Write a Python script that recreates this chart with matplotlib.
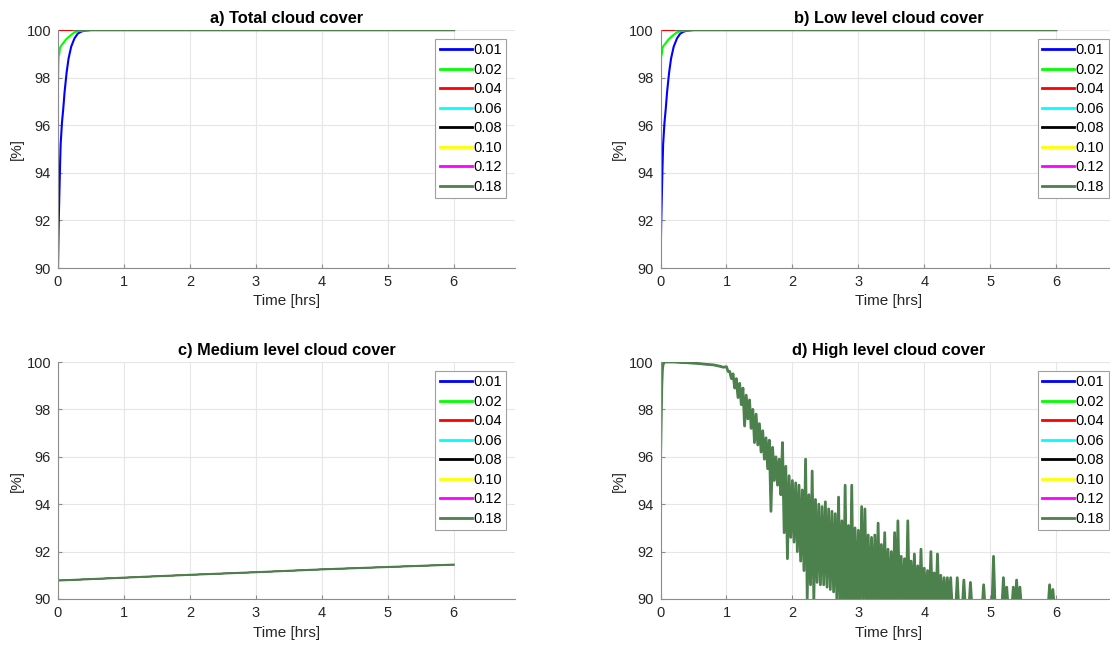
import numpy as np
import matplotlib
matplotlib.use("Agg")
import matplotlib.pyplot as plt

plt.rcParams['font.family'] = ['Liberation Sans', 'DejaVu Sans']

labels = ['0.01', '0.02', '0.04', '0.06', '0.08', '0.10', '0.12', '0.18']
colors = ['#0000ff', '#00ff00', '#ff0000', '#00ffff', '#000000', '#ffff00', '#ff00ff', '#4c804c']
titles = ['a) Total cloud cover', 'b) Low level cloud cover',
          'c) Medium level cloud cover', 'd) High level cloud cover']

# total / low level cloud cover (same in both panels)
t_01 = [0, 0.01, 0.02, 0.03, 0.04, 0.06, 0.08, 0.1, 0.13, 0.16, 0.2, 0.25, 0.3, 0.35, 0.4, 0.5, 6.0]
v_01 = [90, 91.8, 93.0, 94.2, 95.2, 96.1, 96.7, 97.4, 98.2, 98.8, 99.3, 99.65, 99.85, 99.93, 99.97, 100, 100]
t_02 = [0, 0.005, 0.01, 0.02, 0.03, 0.05, 0.08, 0.12, 0.16, 0.2, 0.25, 0.3, 0.4, 0.5, 6.0]
v_02 = [97.8, 98.6, 98.9, 99.0, 99.25, 99.35, 99.45, 99.6, 99.7, 99.8, 99.9, 99.95, 99.98, 100, 100]
t_04 = [0, 6.0]
v_04 = [100, 100]
t_rest = [0.24, 6.0]
v_rest = [100, 100]

# medium level cloud cover
t_mid = [0, 1, 2, 3, 4, 5, 6]
v_mid = [90.78, 90.9, 91.02, 91.13, 91.25, 91.35, 91.45]

# high level cloud cover: spin-up then noisy decay
t_hi0 = [0, 0.01, 0.02, 0.03, 0.04, 0.06, 0.1, 0.2, 0.3, 0.4, 0.5, 0.6, 0.7, 0.8, 0.9, 0.95]
v_hi0 = [95.8, 97.5, 99.0, 99.7, 99.9, 100, 100, 100, 99.98, 99.97, 99.95, 99.93, 99.9, 99.88, 99.82, 99.78]
# upper / lower readings every 0.05 hrs from 1.00 to 6.00
d_upper = [99.8, 99.6, 99.5, 99.3, 99.1, 98.9, 98.6, 98.4, 98.0, 97.8,
           97.4, 97.1, 96.8, 96.7, 96.4, 96.0, 95.9, 96.6, 95.6, 95.2,
           95.0, 94.9, 94.8, 94.6, 95.9, 94.4, 95.4, 94.2, 94.0, 93.9,
           94.1, 93.8, 93.7, 93.6, 94.3, 93.3, 94.8, 93.1, 94.8, 93.0,
           92.9, 93.9, 93.8, 92.7, 92.6, 92.7, 93.2, 92.3, 92.8, 92.1,
           92.0, 92.8, 93.3, 91.8, 91.7, 93.3, 91.6, 91.9, 91.4, 92.1,
           91.3, 91.2, 92.0, 91.1, 91.9, 91.0, 90.9, 90.9, 90.9, 89.6,
           90.9, 89.6, 90.8, 89.6, 90.7, 89.6, 89.6, 89.6, 90.6, 89.6,
           89.6, 91.8, 89.6, 89.6, 90.9, 90.5, 89.6, 90.5, 90.8, 90.5,
           89.6, 89.6, 89.6, 89.6, 89.6, 89.6, 89.6, 89.6, 90.6, 90.4,
           89.6]
d_lower = [99.6, 99.3, 98.9, 98.5, 98.2, 97.3, 97.6, 97.2, 96.6, 96.5,
           96.2, 95.9, 95.5, 93.7, 95.0, 94.8, 94.4, 92.8, 91.7, 92.6,
           92.4, 92.0, 91.6, 91.2, 90.0, 90.6, 89.9, 90.7, 90.6, 90.6,
           90.5, 90.4, 90.3, 89.8, 89.5, 89.5, 89.5, 89.5, 89.5, 89.5,
           89.5, 89.5, 89.5, 89.5, 89.5, 89.5, 89.5, 89.5, 89.5, 89.5,
           89.5, 89.5, 89.5, 89.5, 89.5, 89.5, 89.5, 89.5, 89.5, 89.5,
           89.5, 89.5, 89.5, 89.5, 89.5, 89.5, 89.5, 89.5, 89.5, 89.5,
           89.5, 89.5, 89.5, 89.5, 89.5, 89.5, 89.5, 89.5, 89.5, 89.5,
           89.5, 89.5, 89.5, 89.5, 89.5, 89.5, 89.5, 89.5, 89.5, 89.5,
           89.5, 89.5, 89.5, 89.5, 89.5, 89.5, 89.5, 89.5, 89.5, 89.5,
           89.5]

t_noise = np.round(np.arange(len(d_upper)) * 0.05 + 1.0, 3)
t_hi = np.concatenate([t_hi0, np.ravel(np.column_stack([t_noise, t_noise + 0.025]))])
v_hi = np.concatenate([v_hi0, np.ravel(np.column_stack([d_upper, d_lower]))])

fig = plt.figure(figsize=(11.1, 6.46), dpi=100)
W, H = 1110, 646
pos = [(58, 30, 268), (660.5, 30, 268), (58, 362, 599), (660.5, 362, 599)]
axs = [fig.add_axes([x / W, 1 - yb / H, 457 / W, (yb - yt) / H]) for x, yt, yb in pos]

for j, a in enumerate(axs):
    for i, (lab, c) in enumerate(zip(labels, colors)):
        if j < 2:
            if i == 0:
                t, v = t_01, v_01
            elif i == 1:
                t, v = t_02, v_02
            elif i == 2:
                t, v = t_04, v_04
            else:
                t, v = t_rest, v_rest
        elif j == 2:
            t, v = t_mid, v_mid
        else:
            t, v = t_hi, v_hi
        last = (i == len(labels) - 1)
        if j < 2:
            lw = 1.5
        else:
            # identical curves: keep the hidden ones thinner so no colour fringes show
            lw = (2.0 if j == 3 else 1.5) if last else 0.8
        a.plot(t, v, color=c, lw=lw, label=lab)

    a.set_xlim(0, 6.93)
    a.set_ylim(90, 100)
    a.set_xticks(range(7))
    a.set_yticks(range(90, 101, 2))
    a.grid(True, color='#e6e6e6', lw=0.8)
    a.set_axisbelow(True)
    for s in ['top', 'right']:
        a.spines[s].set_visible(False)
    for s in ['left', 'bottom']:
        a.spines[s].set_color('#8c8c8c')
        a.spines[s].set_linewidth(0.8)
    a.tick_params(direction='in', length=3, color='#8c8c8c', labelsize=10.5,
                  labelcolor='#262626', pad=5)
    a.set_title(titles[j], fontsize=11.8, fontweight='bold', pad=5)
    a.set_xlabel('Time [hrs]', fontsize=11, color='#262626', labelpad=4)
    a.set_ylabel('[%]', fontsize=11, color='#262626', labelpad=2)
    leg = a.legend(loc='upper right', fontsize=10.5, handlelength=2.2, handletextpad=0.1,
                   labelspacing=0.38, borderpad=0.3, borderaxespad=0.6, fancybox=False,
                   framealpha=1, edgecolor='#a0a0a0')
    leg.get_frame().set_linewidth(0.8)
    for l in leg.get_lines():
        l.set_linewidth(2)

fig.savefig('out.png', dpi=100)
